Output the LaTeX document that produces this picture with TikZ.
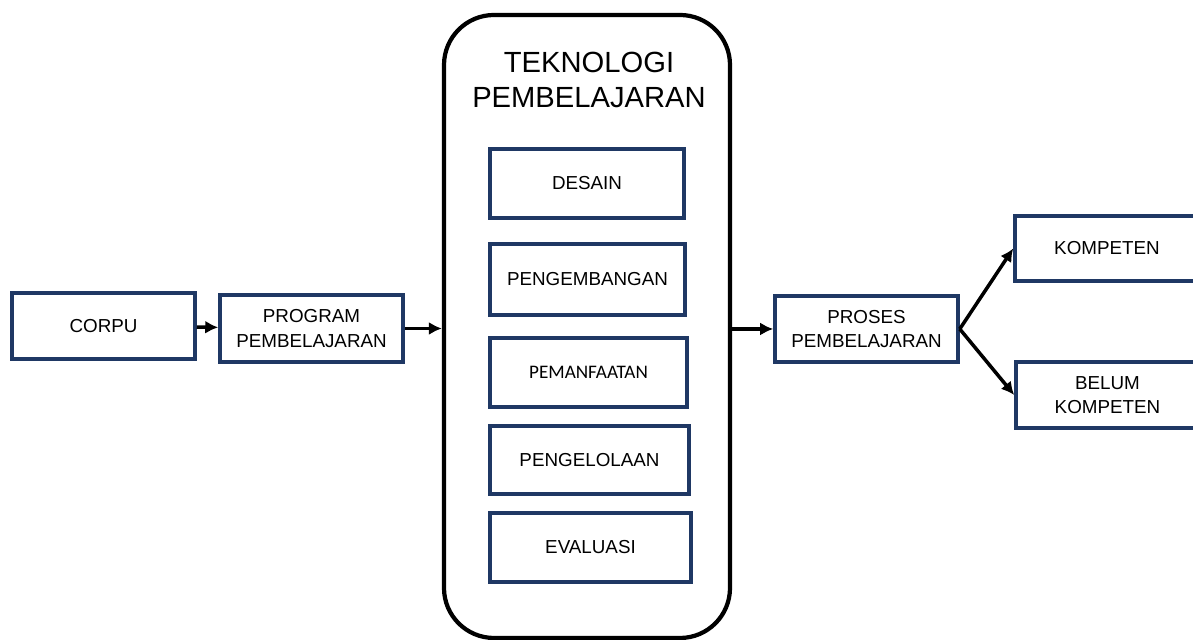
\documentclass[tikz,border=0pt]{standalone}
\usepackage{fontspec}
\usetikzlibrary{arrows.meta}
\setmainfont{Liberation Sans}
\newfontfamily\calibri{Carlito}
\definecolor{navy}{HTML}{1F3864}

\begin{document}
\begin{tikzpicture}[every node/.style={rectangle, draw=navy, line width=2pt, fill=white, align=center, font=\fontsize{10.7}{14}\selectfont},
            arrow_style/.style={draw=black, line width=2pt, -{Latex[length=2.6mm, width=2.6mm]}}]
            \tikzset{big box/.style={draw=black, line width=2.4pt, rounded corners=1cm, fill=white}}
            \useasboundingbox (0,0) rectangle (23.86,12.8);
            \node [big box, minimum width=5.72cm, minimum height=12.46cm] (tek) at (11.74, 6.27) {};
            \node [draw=none, fill=none, font=\fontsize{16.6}{20.4}\selectfont] (title) at (11.78, 11.2) {TEKNOLOGI\\PEMBELAJARAN};
            \node [minimum width=3.66cm, minimum height=1.32cm] (corpu) at (2.07, 6.28) {CORPU};
            \node [minimum width=3.66cm, minimum height=1.34cm] (prog) at (6.23, 6.23) {PROGRAM\\PEMBELAJARAN};
            \node [minimum width=3.88cm, minimum height=1.38cm] (desain) at (11.74, 9.13) {DESAIN};
            \node [minimum width=3.9cm, minimum height=1.42cm] (pengembangan) at (11.75, 7.21) {PENGEMBANGAN};
            \node [minimum width=3.94cm, minimum height=1.38cm, font=\calibri\fontsize{10.9}{13}\selectfont] (pemanfaatan) at (11.77, 5.35) {PEMANFAATAN};
            \node [minimum width=3.98cm, minimum height=1.36cm] (pengelolaan) at (11.79, 3.6) {PENGELOLAAN};
            \node [minimum width=4.02cm, minimum height=1.38cm] (evaluasi) at (11.81, 1.85) {EVALUASI};
            \node [minimum width=3.66cm, minimum height=1.32cm] (proses) at (17.33, 6.22) {PROSES\\PEMBELAJARAN};
            \node [minimum width=3.68cm, minimum height=1.3cm] (kompeten) at (22.14, 7.83) {KOMPETEN};
            \node [minimum width=3.66cm, minimum height=1.32cm] (belum) at (22.15, 4.9) {BELUM\\KOMPETEN};
            \draw [arrow_style] (corpu) -- (prog);
            \draw [arrow_style] (prog.east) -- (prog.east -| tek.west);
            \draw [arrow_style] (tek.east |- proses.west) -- (proses.west);
            \draw [arrow_style] (proses.east) -- (kompeten.west);
            \draw [arrow_style] (proses.east) -- (belum.west);
        \end{tikzpicture}
\end{document}
